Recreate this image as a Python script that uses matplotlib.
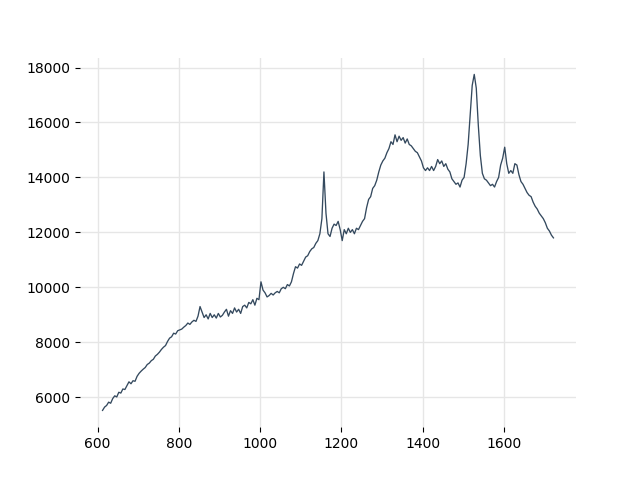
import numpy as np
import matplotlib
matplotlib.use("Agg")
import matplotlib.pyplot as plt

# wavenumber axis, 612..1722 in steps of 5
wavenumber = np.arange(612, 1723, 5)

# intensity values, 100-unit blocks
seg_612 = [5520, 5640, 5700, 5820, 5780, 5950, 6050, 6010, 6180, 6150,
           6300, 6280, 6420, 6560, 6490, 6600, 6580, 6760, 6870, 6950]
seg_712 = [7020, 7080, 7190, 7240, 7330, 7380, 7500, 7560, 7640, 7740,
           7820, 7880, 8030, 8150, 8200, 8330, 8300, 8420, 8450, 8480]
seg_812 = [8550, 8610, 8700, 8650, 8740, 8800, 8760, 8950, 9300, 9100,
           8900, 9000, 8850, 9050, 8900, 9000, 8880, 9050, 8920, 8980]
seg_912 = [9100, 9200, 8950, 9150, 9050, 9250, 9100, 9200, 9050, 9300,
           9350, 9250, 9450, 9400, 9550, 9350, 9600, 9550, 10200, 9900]
seg_1012 = [9800, 9650, 9700, 9780, 9720, 9800, 9850, 9800, 9950, 10000,
            9950, 10100, 10050, 10200, 10500, 10750, 10700, 10850, 10800, 10950]
seg_1112 = [11100, 11150, 11300, 11400, 11450, 11600, 11700, 11950, 12500, 14200,
            12700, 11950, 11850, 12150, 12300, 12250, 12400, 12100, 11700, 12100]
seg_1212 = [11950, 12150, 12000, 12100, 11950, 12150, 12100, 12250, 12400, 12500,
            12900, 13200, 13300, 13600, 13700, 13900, 14200, 14450, 14600, 14700]
seg_1312 = [14900, 15050, 15300, 15200, 15550, 15300, 15500, 15350, 15450, 15250,
            15400, 15200, 15150, 15050, 14950, 14900, 14750, 14600, 14350, 14250]
seg_1412 = [14350, 14250, 14400, 14250, 14400, 14650, 14500, 14600, 14400, 14500,
            14300, 14200, 13950, 13850, 13750, 13800, 13650, 13900, 14000, 14500]
seg_1512 = [15200, 16300, 17350, 17750, 17250, 15900, 14800, 14150, 13950, 13900,
            13800, 13700, 13750, 13650, 13850, 14000, 14450, 14700, 15100, 14500]
seg_1612 = [14150, 14250, 14150, 14500, 14450, 14100, 13850, 13750, 13600, 13450,
            13350, 13300, 13100, 12950, 12850, 12700, 12600, 12500, 12350, 12150,
            12050, 11900, 11800]

intensity = np.array(seg_612 + seg_712 + seg_812 + seg_912 + seg_1012 + seg_1112
                     + seg_1212 + seg_1312 + seg_1412 + seg_1512 + seg_1612)

fig, ax = plt.subplots(figsize=(6.4, 4.8), dpi=100)
ax.plot(wavenumber, intensity, color="#34495e", linewidth=0.95)

ax.grid(True, color="#e6e6e6", linewidth=1)
ax.set_axisbelow(True)
for side in ["top", "right", "bottom", "left"]:
    ax.spines[side].set_visible(False)

fig.savefig("out.png", dpi=100)
